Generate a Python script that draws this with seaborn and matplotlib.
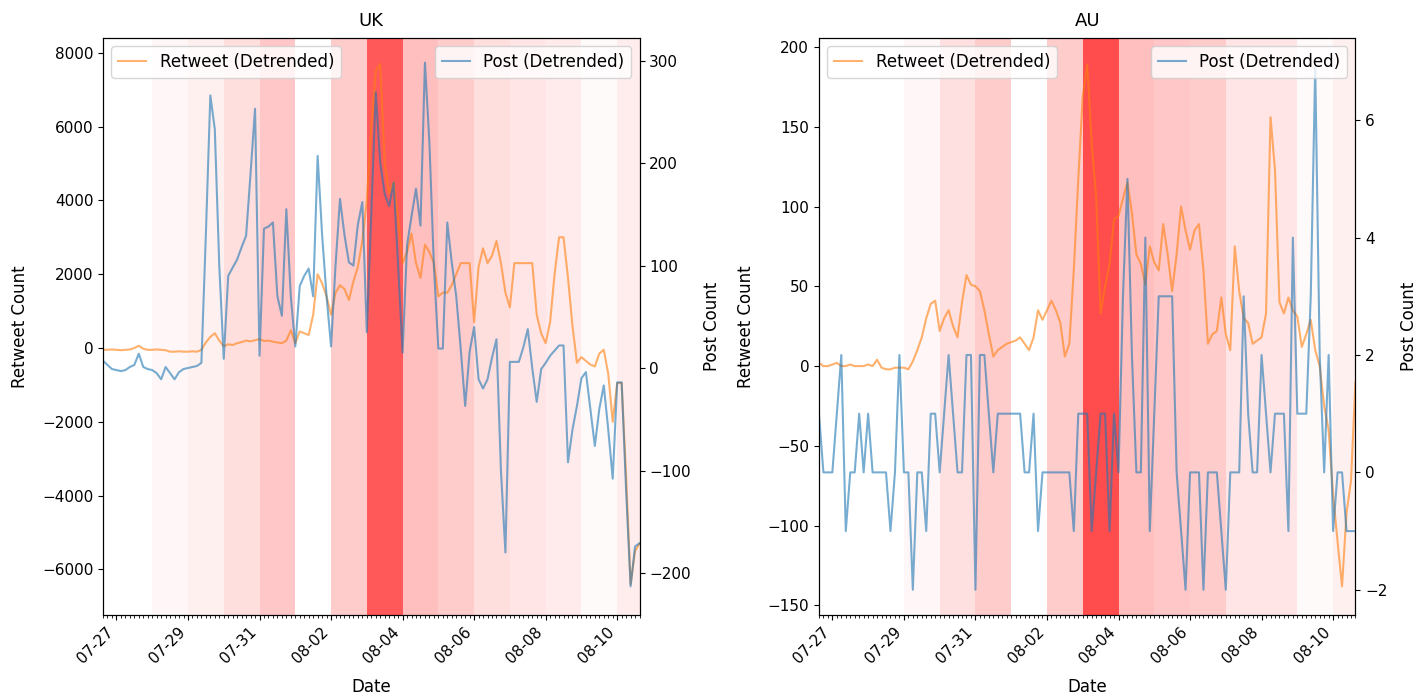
import pandas as pd
import matplotlib
matplotlib.use('Agg')
import matplotlib.pyplot as plt
import matplotlib.dates as mdates
import seaborn as sns

# 3-hourly detrended series, 2024-07-26 15:00 -> 2024-08-10 15:00
dates = pd.date_range('2024-07-26 15:00', periods=121, freq='3h')

uk_retweet = [
    -50, -50, -40, -50, -60, -50, -40, 0, 60, -20, -50, -50, -40, -50, -60, -100,
    -100, -90, -100, -100, -90, -100, -50, 150, 300, 400, 200, 50, 100, 80, 130, 160,
    200, 180, 210, 240, 190, 200, 170, 150, 130, 200, 480, 130, 450, 400, 350, 900,
    2000, 1750, 1400, 900, 1500, 1700, 1600, 1300, 1800, 2200, 2900, 4000, 6000, 7500,
    7700, 5000, 4200, 4500, 3500, 2300, 2600, 3100, 2300, 1900, 2800, 2600, 2300, 1400,
    1500, 1500, 1700, 2000, 2300, 2300, 2300, 700, 2200, 2700, 2300, 2500, 2900, 2300,
    1500, 1100, 2300, 2300, 2300, 2300, 2300, 900, 400, 130, 700, 2000, 3000, 3000,
    1900, 600, -400, -250, -350, -450, -500, -150, -50, -700, -2000, -950, -950, -3500,
    -6400, -5500, -5300,
]
uk_post = [
    7, 3, -1, -2, -3, -2, 1, 3, 14, 1, -1, -2, -5, -11, 1, -5,
    -11, -4, -1, 0, 1, 2, 5, 130, 266, 233, 100, 9, 90, 98, 106, 118,
    129, 190, 253, 12, 136, 138, 142, 70, 51, 155, 70, 21, 80, 90, 97, 70,
    207, 130, 70, 21, 100, 165, 130, 103, 100, 140, 162, 35, 150, 269, 200, 170,
    158, 181, 100, 15, 120, 148, 175, 139, 298, 220, 100, 19, 19, 142, 103, 70,
    19, -37, 16, 40, -11, -20, -11, 10, 28, -100, -180, 6, 6, 6, 20, 38,
    0, -33, -1, 5, 12, 17, 22, 22, -92, -60, -37, -10, -4, -40, -76, -40,
    -17, -60, -108, -14, -14, -120, -213, -174, -171,
]
au_retweet = [
    2, 0, 0, 1, 2, 0, 0, 1, 0, 0, 0, 1, 0, 4, -1, -2,
    -2, -1, -1, -1, -2, 3, 10, 18, 30, 39, 41, 22, 30, 35, 25, 18,
    40, 57, 51, 50, 47, 35, 20, 6, 10, 12, 14, 15, 16, 18, 14, 10,
    18, 35, 29, 35, 41, 35, 27, 6, 14, 60, 117, 169, 189, 140, 106, 33,
    50, 64, 92, 94, 105, 115, 96, 70, 64, 51, 75, 65, 60, 89, 70, 47,
    70, 100, 85, 73, 85, 89, 60, 14, 20, 22, 43, 20, 10, 75, 47, 30,
    27, 14, 16, 18, 33, 156, 123, 40, 33, 43, 35, 31, 12, 20, 29, 10,
    0, -25, -40, -81, -110, -138, -92, -72, -10,
]
au_post = [
    1, 0, 0, 0, 1, 2, -1, 0, 0, 1, 0, 1, 0, 0, 0, 0,
    -1, 0, 2, 0, 0, -2, 0, 0, -1, 1, 1, 0, 1, 2, 1, 0,
    0, 2, 2, -2, 2, 2, 1, 0, 1, 1, 1, 1, 1, 1, 0, 0,
    1, -1, 0, 0, 0, 0, 0, 0, 0, -1, 1, 1, 1, -1, 0, 1,
    1, -1, 1, 0, 3, 5, 2, 0, 0, 4, -1, 1, 3, 3, 3, 3,
    0, -1, -2, 0, 0, 0, -2, 0, 0, 0, -1, -2, 0, 0, 0, 3,
    1, 0, 0, 2, 1, 0, 1, 1, 1, -1, 4, 1, 1, 1, 3, 6.9,
    2, 0, 2, -1, 0, 0, -1, -1, -1,
]

# daily shading intensity (07-26 .. 08-10)
shade_days = pd.date_range('2024-07-26', periods=16, freq='D')
uk_shade = [0, 0, 0.03, 0.06, 0.13, 0.22, 0, 0.2, 0.65, 0.25, 0.2, 0.13, 0.1, 0.08, 0.02, 0.07]
au_shade = [0, 0, 0, 0.03, 0.12, 0.2, 0, 0.2, 0.7, 0.25, 0.22, 0.2, 0.1, 0.1, 0.02, 0.06]

panels = [
    ('UK', uk_retweet, uk_post, uk_shade, (-7236, 8400), (-241, 322)),
    ('AU', au_retweet, au_post, au_shade, (-156, 205.6), (-2.43, 7.4)),
]

fig = plt.figure(figsize=(14.25, 7), dpi=100)
lefts = [0.0723, 0.5747]
major_ticks = pd.date_range('2024-07-27', '2024-08-10', freq='2D')
minor_ticks = pd.date_range('2024-07-26 15:00', '2024-08-10 15:00', freq='3h')

for left, (name, rt, post, shade, ylim1, ylim2) in zip(lefts, panels):
    rect = [left, 0.1214, 0.3765, 0.8243]

    # shading lives on its own background axes
    ax_bg = fig.add_axes(rect)
    for day, a in zip(shade_days, shade):
        if a > 0:
            ax_bg.axvspan(day, day + pd.Timedelta(days=1), color='red', alpha=a, lw=0)
    ax_bg.set_xlim(dates[0], dates[-1])
    ax_bg.axis('off')

    ax = fig.add_axes(rect)
    ax.patch.set_visible(False)
    sns.lineplot(x=dates, y=rt, ax=ax, color='tab:orange', alpha=0.6,
                 label='Retweet (Detrended)')
    ax.set_ylim(*ylim1)
    ax.set_ylabel('Retweet Count', fontsize=12, labelpad=9)
    ax.set_xlabel('Date', fontsize=12, labelpad=8)
    ax.set_title(name, fontsize=13, pad=9)
    ax.legend(loc='upper left', fontsize=12, handlelength=1.7)
    ax.tick_params(labelsize=11)

    ax2 = ax.twinx()
    sns.lineplot(x=dates, y=post, ax=ax2, color='tab:blue', alpha=0.6,
                 label='Post (Detrended)')
    ax2.set_ylim(*ylim2)
    ax2.set_ylabel('Post Count', fontsize=12, labelpad=9)
    ax2.legend(loc='upper right', fontsize=12, handlelength=1.7)
    ax2.tick_params(labelsize=11)

    ax.set_xlim(dates[0], dates[-1])
    ax.set_xticks(major_ticks)
    ax.set_xticks(minor_ticks, minor=True)
    ax.xaxis.set_major_formatter(mdates.DateFormatter('%m-%d'))
    for lbl in ax.get_xticklabels():
        lbl.set_rotation(45)
        lbl.set_ha('right')

fig.savefig('out.png', dpi=100)
